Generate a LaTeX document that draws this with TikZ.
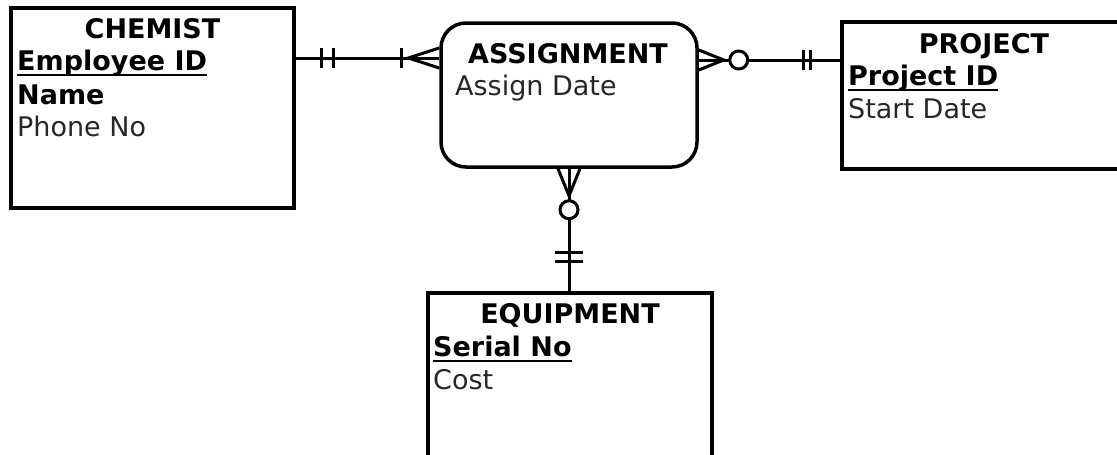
\documentclass[tikz,border=0pt]{standalone}
\usepackage{fontspec}
\setmainfont{DejaVu Sans}
\begin{document}
\begin{tikzpicture}[x=1pt,y=-1pt,
  ent/.style={draw, line width=3.5pt, inner sep=0pt},
  lnk/.style={line width=3pt},
  ttl/.style={font=\fontsize{27}{30}\selectfont\bfseries, anchor=base, inner sep=0pt},
  keyattr/.style={font=\fontsize{27}{30}\selectfont\bfseries, anchor=base west, inner sep=0pt},
  attr/.style={font=\fontsize{27}{30}\selectfont, anchor=base west, inner sep=0pt, text=black!85},
  uln/.style={line width=1.8pt}]
\useasboundingbox (0,0) rectangle (1117,455);

% entities
\node[ent, minimum width=283pt, minimum height=200pt] (chem) at (152.5,108) {};
\node[ent, rounded corners=25pt, minimum width=256pt, minimum height=144pt] (asg) at (569,95) {};
\node[ent, minimum width=284pt, minimum height=147pt] (proj) at (984,95.5) {};
\node[ent, minimum width=284pt, minimum height=180pt] (equ) at (570,383) {};

% CHEMIST texts
\node[ttl] (chemt) at (152.5,38) {CHEMIST};
\node[keyattr] (chemk) at (17,70) {Employee ID};
\node[keyattr] (chemn) at (17,104) {Name};
\node[attr] (chemp) at (17,136) {Phone No};
\draw[uln] ([yshift=-5pt]chemk.base west) -- ([yshift=-5pt]chemk.base east);

% ASSIGNMENT texts
\node[ttl] (asgt) at (568,63) {ASSIGNMENT};
\node[attr] (asgd) at (455,95) {Assign Date};

% PROJECT texts
\node[ttl] (projt) at (984,53) {PROJECT};
\node[keyattr] (projk) at (848,85) {Project ID};
\node[attr] (projs) at (848,118) {Start Date};
\draw[uln] ([yshift=-5pt]projk.base west) -- ([yshift=-5pt]projk.base east);

% EQUIPMENT texts
\node[ttl] (equt) at (570,323) {EQUIPMENT};
\node[keyattr] (equk) at (433,356) {Serial No};
\node[attr] (equc) at (433,389) {Cost};
\draw[uln] ([yshift=-5pt]equk.base west) -- ([yshift=-5pt]equk.base east);

% connector CHEMIST - ASSIGNMENT
\coordinate (cA) at (chem.east |- 0,58);
\coordinate (aA) at (asg.west |- 0,58);
\draw[lnk] (cA) -- (aA);
\draw[lnk] (cA) ++(26,-10) -- ++(0,20);
\draw[lnk] (cA) ++(38,-10) -- ++(0,20);
\draw[lnk] (aA) ++(-38,-10) -- ++(0,20);
\draw[lnk] (aA) ++(0,-10) -- ++(-31,10) -- ++(31,10);

% connector ASSIGNMENT - PROJECT
\coordinate (aB) at (asg.east |- 0,60);
\coordinate (pB) at (proj.west |- 0,60);
\draw[lnk] (aB) -- (pB);
\draw[lnk] (aB) ++(0,-10) -- ++(25,10) -- ++(-25,10);
\draw[lnk, fill=white] (aB) ++(40,0) circle[radius=9];
\draw[lnk] (pB) ++(-37,-10) -- ++(0,20);
\draw[lnk] (pB) ++(-30,-10) -- ++(0,20);

% connector ASSIGNMENT - EQUIPMENT
\coordinate (aC) at (asg.south);
\coordinate (eC) at (equ.north -| asg.south);
\draw[lnk] (aC) -- (eC);
\draw[lnk] (aC) ++(-11,0) -- ++(11,27) -- ++(11,-27);
\draw[lnk, fill=white] (aC) ++(0,41) circle[radius=9];
\draw[lnk] (eC) ++(-14,-39) -- ++(28,0);
\draw[lnk] (eC) ++(-14,-30) -- ++(28,0);
\end{tikzpicture}
\end{document}
